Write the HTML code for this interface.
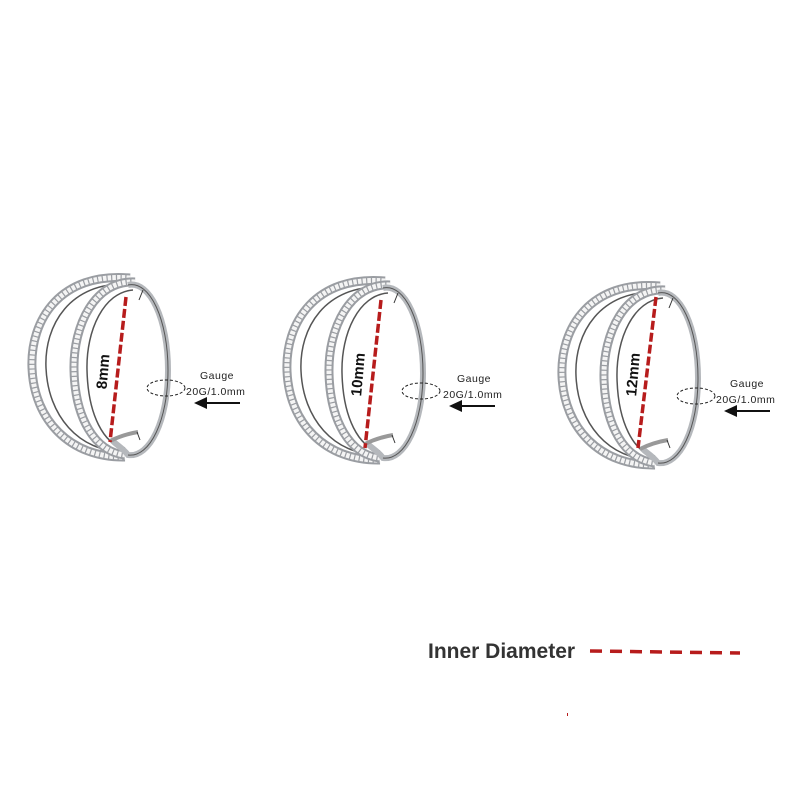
<!DOCTYPE html>
<html><head><style>html,body{margin:0;padding:0;background:#fff}svg{display:block}</style></head>
<body>
<svg width="800" height="800" viewBox="0 0 800 800" xmlns="http://www.w3.org/2000/svg" font-family="Liberation Sans, sans-serif">
<defs>
<g id="ring">
  <path d="M130,278 C60,272 30,320 32,368 C34,420 70,458 125,457" fill="none" stroke="#9a9da2" stroke-width="9"/>
  <path d="M130,278 C60,272 30,320 32,368 C34,420 70,458 125,457" fill="none" stroke="#f4f4f4" stroke-width="5" stroke-dasharray="3.5 1.2"/>
  <path d="M128,284 C70,282 44,325 46,368 C48,415 78,452 125,452" fill="none" stroke="#555" stroke-width="1.5"/>
  <path d="M135,282 C95,280 73,325 74,370 C75,418 95,452 125,455" fill="none" stroke="#9a9da2" stroke-width="9"/>
  <path d="M135,282 C95,280 73,325 74,370 C75,418 95,452 125,455" fill="none" stroke="#f4f4f4" stroke-width="5" stroke-dasharray="3.5 1.2"/>
  <path d="M133,290 C104,292 86,330 87,370 C88,415 104,445 125,448" fill="none" stroke="#555" stroke-width="1.5"/>
  <path d="M128,285 C150,280 168,320 168,370 C168,420 150,458 128,455 C122,447 116,445 112,440" fill="none" stroke="#b5b8bc" stroke-width="6"/>
  <path d="M128,285 C150,280 168,320 168,370 C168,420 150,458 128,455" fill="none" stroke="#555" stroke-width="1"/>
  <path d="M110,441 C122,435 132,433 138,432" fill="none" stroke="#999" stroke-width="4"/>
  <line x1="143" y1="290" x2="139" y2="300" stroke="#333" stroke-width="1"/>
  <line x1="137" y1="432" x2="140" y2="440" stroke="#333" stroke-width="1"/>
  <ellipse cx="166" cy="388" rx="19" ry="8" fill="none" stroke="#222" stroke-width="1" stroke-dasharray="3 2"/>
  <line x1="240" y1="403" x2="205" y2="403" stroke="#111" stroke-width="2"/>
  <polygon points="194,403 207,397 207,409" fill="#111"/>
</g>
</defs>
<use href="#ring"/>
<use href="#ring" transform="translate(255,3)"/>
<use href="#ring" transform="translate(530,8)"/>

<g stroke="#b71c1c" stroke-width="3.5" stroke-dasharray="9 3">
<line x1="126" y1="297" x2="110" y2="442"/>
<line x1="381" y1="300" x2="365" y2="448"/>
<line x1="656" y1="297" x2="638" y2="448"/>
</g>
<g font-size="15" font-weight="bold" fill="#111">
<text transform="translate(108,372) rotate(-85)" text-anchor="middle">8mm</text>
<text transform="translate(363,375) rotate(-85)" text-anchor="middle">10mm</text>
<text transform="translate(638,375) rotate(-85)" text-anchor="middle">12mm</text>
</g>
<g font-size="10.5" fill="#222" letter-spacing="0.5">
<text x="200" y="379">Gauge</text><text x="186" y="395">20G/1.0mm</text>
<text x="457" y="382">Gauge</text><text x="443" y="398">20G/1.0mm</text>
<text x="730" y="387">Gauge</text><text x="716" y="403">20G/1.0mm</text>
</g>
<text x="428" y="658" font-size="21" font-weight="bold" fill="#333">Inner Diameter</text>
<line x1="590" y1="651" x2="740" y2="653" stroke="#b71c1c" stroke-width="3.5" stroke-dasharray="12 8"/>
<rect x="567" y="713" width="1" height="3" fill="#b71c1c"/>
</svg>
</body></html>
